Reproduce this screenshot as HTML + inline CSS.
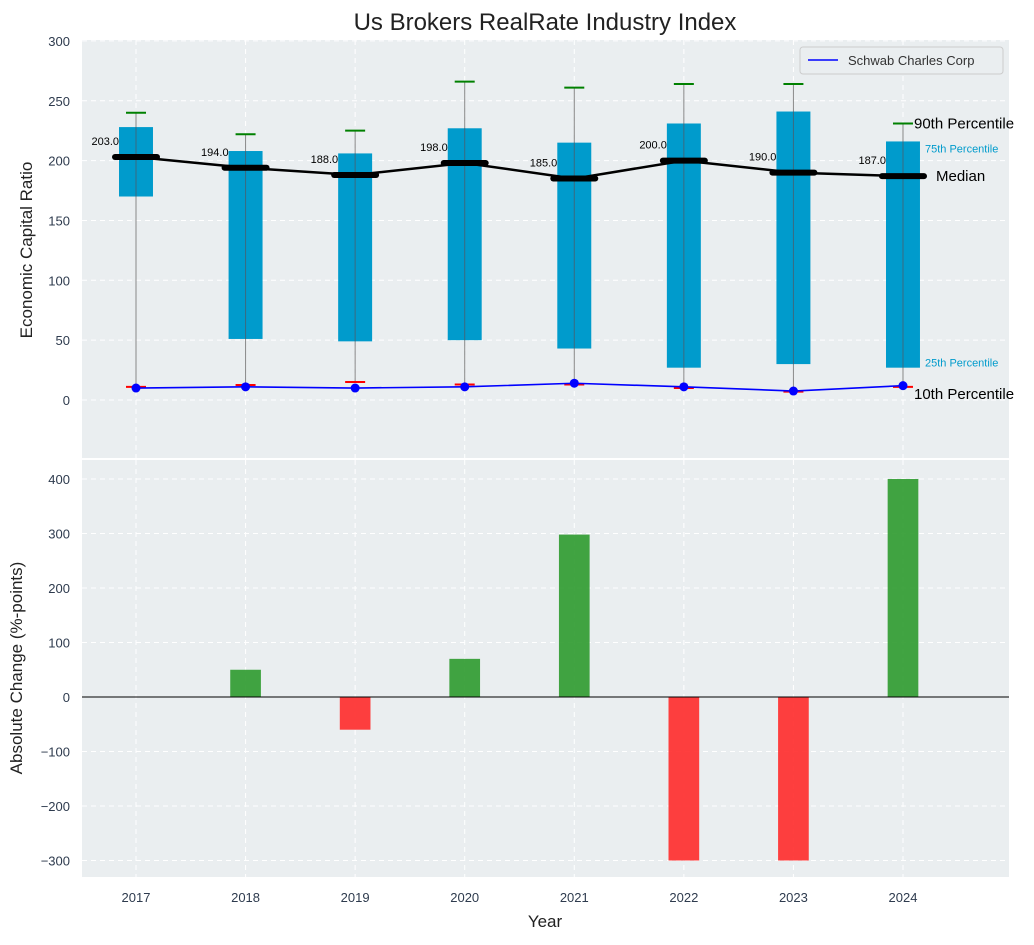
<!DOCTYPE html>
<html><head><meta charset="utf-8"><style>
body{margin:0;background:#fff;font-family:"Liberation Sans","DejaVu Sans",sans-serif}
svg text{font-family:"Liberation Sans","DejaVu Sans",sans-serif}
</style></head><body>
<svg id="c" width="1034" height="940" viewBox="0 0 1034 940"></svg>
<script>
const years=[2017,2018,2019,2020,2021,2022,2023,2024];
const p10=[11,12.5,15,13,13,10,7,11];
const p25=[170,51,49,50,43,27,30,27];
const medians=[203,194,188,198,185,200,190,187];
const p75=[228,208,206,227,215,231,241,216];
const p90=[240,222,225,266,261,264,264,231];
const company=[10,11,10,11,14,11,7.5,12];
const changes=[0,50,-60,70,298,-300,-300,400];
const topTicks=[0,50,100,150,200,250,300];
const botTicks=[-300,-200,-100,0,100,200,300,400];

const S=document.getElementById('c');const NS='http://www.w3.org/2000/svg';
function el(t,a,p){const e=document.createElementNS(NS,t);for(const k in a)e.setAttribute(k,a[k]);(p||S).appendChild(e);return e;}
const X0=82,X1=1009;
const pxPerYear=109.57;
const xs=v=>136+(v-2017)*pxPerYear;
const yT=v=>400-v*1.197;
const yB=v=>697-v*0.545;
const tickCol='#2e3b4e';

let a=el('rect',{x:X0,y:40,width:X1-X0,height:418,fill:'#eaeef0'});

a=el('rect',{x:X0,y:460,width:X1-X0,height:417,fill:'#eaeef0'});


topTicks.forEach(t=>{el('line',{x1:X0,x2:X1,y1:yT(t),y2:yT(t),stroke:'#fff','stroke-dasharray':'5,4','stroke-width':1});
 const tx=el('text',{x:70,y:yT(t)+5,'text-anchor':'end','font-size':13,fill:tickCol});tx.textContent=t;
 });
botTicks.forEach(t=>{el('line',{x1:X0,x2:X1,y1:yB(t),y2:yB(t),stroke:'#fff','stroke-dasharray':'5,4','stroke-width':1});
 const tx=el('text',{x:70,y:yB(t)+5,'text-anchor':'end','font-size':13,fill:tickCol});tx.textContent=t.toString().replace('-','\u2212');
 });
years.forEach(y=>{const x=xs(y);
 el('line',{x1:x,x2:x,y1:40,y2:458,stroke:'#fff','stroke-dasharray':'5,4'});
 el('line',{x1:x,x2:x,y1:460,y2:877,stroke:'#fff','stroke-dasharray':'5,4'});
 const tx=el('text',{x:x,y:902,'text-anchor':'middle','font-size':13,fill:tickCol});tx.textContent=y;
 });

const bw=0.31*pxPerYear;
years.forEach((y,i)=>{const x=xs(y);
 let w=el('line',{x1:x,x2:x,y1:yT(p90[i]),y2:yT(p10[i]),stroke:'#888','stroke-width':1});
 
 let b=el('rect',{x:x-bw/2,y:yT(p75[i]),width:bw,height:yT(p25[i])-yT(p75[i]),fill:'#009bcc'});
 
 el('line',{x1:x,x2:x,y1:yT(p75[i]),y2:yT(p25[i]),stroke:'#3a6a80','stroke-width':1});
 let c=el('line',{x1:x-10,x2:x+10,y1:yT(p90[i]),y2:yT(p90[i]),stroke:'green','stroke-width':2});
 
 c=el('line',{x1:x-10,x2:x+10,y1:yT(p10[i]),y2:yT(p10[i]),stroke:'red','stroke-width':2});
 
});
let mp=el('polyline',{points:years.map((y,i)=>xs(y)+','+yT(medians[i])).join(' '),fill:'none',stroke:'#000','stroke-width':2.5});

years.forEach((y,i)=>{const x=xs(y);
 let m=el('line',{x1:x-21,x2:x+21,y1:yT(medians[i]),y2:yT(medians[i]),stroke:'#000','stroke-width':6,'stroke-linecap':'round'});
 
 let t=el('text',{x:x-17,y:yT(medians[i])-12,'text-anchor':'end','font-size':11,fill:'#000'});t.textContent=medians[i].toFixed(1);
 });
let cp=el('polyline',{points:years.map((y,i)=>xs(y)+','+yT(company[i])).join(' '),fill:'none',stroke:'blue','stroke-width':1.6});

years.forEach((y,i)=>{let d=el('circle',{cx:xs(y),cy:yT(company[i]),r:4.5,fill:'blue'});
 });
const X24=xs(2024);
[['90th Percentile',p90[7],15,'#000',11],['75th Percentile',p75[7]-5,11,'#009bcc',22],['Median',medians[7],15,'#000',33],['25th Percentile',p25[7]+5,11,'#009bcc',22],['10th Percentile',p10[7]-6,15,'#000',11]].forEach(r=>{
 let t=el('text',{x:X24+r[4],y:yT(r[1])+5,'font-size':r[2],fill:r[3]});t.textContent=r[0];
 });
let lg=el('g',{});
el('rect',{x:800,y:47,width:203,height:27,rx:3,fill:'#eaeef0',stroke:'#ccc'},lg);
el('line',{x1:808,x2:838,y1:60,y2:60,stroke:'blue','stroke-width':1.6},lg);
let lt=el('text',{x:848,y:65,'font-size':13,fill:'#333'},lg);lt.textContent='Schwab Charles Corp';

const bbw=0.28*pxPerYear;
years.forEach((y,i)=>{const v=changes[i];if(v===0)return;
 let r=el('rect',{x:xs(y)-bbw/2,y:Math.min(yB(v),yB(0)),width:bbw,height:Math.abs(yB(v)-yB(0)),fill:v>0?'#2e9a2e':'#ff2a2a','fill-opacity':0.9});
 });
let z=el('line',{x1:X0,x2:X1,y1:yB(0),y2:yB(0),stroke:'#000','stroke-width':1});


let t=el('text',{x:545,y:30,'text-anchor':'middle','font-size':24,fill:'#222'});t.textContent='Us Brokers RealRate Industry Index';

t=el('text',{x:545,y:927,'text-anchor':'middle','font-size':17,fill:'#222'});t.textContent='Year';

t=el('text',{x:0,y:0,'text-anchor':'middle','font-size':17,fill:'#222',transform:'translate(32,250) rotate(-90)'});t.textContent='Economic Capital Ratio';

t=el('text',{x:0,y:0,'text-anchor':'middle','font-size':17,fill:'#222',transform:'translate(22,668) rotate(-90)'});t.textContent='Absolute Change (%-points)';

</script>
</body></html>
